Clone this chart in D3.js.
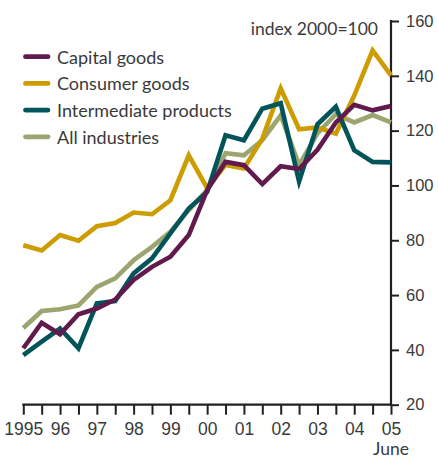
<!DOCTYPE html>
<html>
<head>
<meta charset="utf-8">
<script src="https://cdn.jsdelivr.net/npm/d3@7"></script>
<style>
  body { margin: 0; background: #fff; }
  svg { display: block; font-family: Lato, "Open Sans", sans-serif; }
</style>
</head>
<body>
<svg id="chart" width="438" height="459"></svg>
<script>
/// DATA ///
// half-year steps, 1995 .. June 2005
var periods = d3.range(21);
var yearLabels = ["1995", "96", "97", "98", "99", "00", "01", "02", "03", "04", "05"];
var yTicks = [20, 40, 60, 80, 100, 120, 140, 160];

var capitalGoods = [40.6, 49.9, 45.7, 53, 55.1, 58.4, 65.5, 70.3, 74, 81.9, 98.3,
  108.6, 107.4, 100.5, 107, 106, 113, 123, 129.4, 127.4, 129];
var consumerGoods = [78.2, 76.3, 81.9, 79.8, 85.1, 86.3, 90.1, 89.5, 94.6, 111, 99,
  107.5, 106.2, 117, 135.4, 120.5, 121.2, 118.9, 132.8, 149.3, 140.2];
var intermediateProducts = [38.1, 43, 47.8, 40.6, 57, 57.8, 67.9, 73.4, 82.5, 91.6, 97.6,
  118.3, 116.5, 128, 130, 101.5, 122.3, 128.7, 112.9, 108.6, 108.4];
var allIndustries = [48, 54.2, 54.8, 56.2, 63, 66.1, 72.7, 77.6, 83.1, 91, 98.3,
  111.8, 111, 116.5, 125.6, 107.4, 119, 126, 123, 125.7, 123];

var seriesNames = ["Capital goods", "Consumer goods", "Intermediate products", "All industries"];
var seriesValues = [capitalGoods, consumerGoods, intermediateProducts, allIndustries];

var COLOR = {
  CAPITAL: "#611a4d",
  CONSUMER: "#cc9c00",
  INTERMEDIATE: "#00545a",
  ALL: "#9ca46f",
  AXIS: "#231f20",
  TEXT: "#3a3a3a"
};
var seriesColors = [COLOR.CAPITAL, COLOR.CONSUMER, COLOR.INTERMEDIATE, COLOR.ALL];

/// SETUP ///
var svg = d3.select("#chart");

var x = d3.scaleLinear().domain([0, 20]).range([23.3, 391]);
var y = d3.scaleLinear().domain([20, 160]).range([404.7, 21]);

// x axis: a tick every half year, labels on year starts
var xAxis = d3.axisBottom(x)
  .tickValues(periods)
  .tickSize(10)
  .tickSizeOuter(0)
  .tickFormat(function (d) {
    return d % 2 === 0 ? yearLabels[d / 2] : "";
  });

var xAxisG = svg.append("g")
  .attr("transform", "translate(0," + y(20) + ")")
  .call(xAxis);

xAxisG.select(".domain").remove();
xAxisG.selectAll("line").attr("stroke", COLOR.AXIS).attr("stroke-width", 2);
xAxisG.selectAll("text")
  .attr("fill", COLOR.TEXT)
  .style("font-size", "17.5px")
  .attr("y", 18)
  .attr("dy", "0.71em");

svg.append("line")
  .attr("x1", x(0) - 1)
  .attr("x2", x(20) + 1)
  .attr("y1", y(20))
  .attr("y2", y(20))
  .attr("stroke", COLOR.AXIS)
  .attr("stroke-width", 2.2);

svg.append("text")
  .attr("x", x(20))
  .attr("y", 455)
  .attr("text-anchor", "middle")
  .attr("fill", COLOR.TEXT)
  .style("font-size", "17.5px")
  .text("June");

// y axis on the right
var yAxis = d3.axisRight(y)
  .tickValues(yTicks)
  .tickSize(8)
  .tickSizeOuter(0);

var yAxisG = svg.append("g")
  .attr("transform", "translate(" + x(20) + ",0)")
  .call(yAxis);

yAxisG.select(".domain").remove();
yAxisG.selectAll("line").attr("stroke", COLOR.AXIS).attr("stroke-width", 2);
yAxisG.selectAll("text")
  .attr("fill", COLOR.TEXT)
  .attr("x", 15)
  .style("font-size", "16.5px");

svg.append("line")
  .attr("x1", x(20))
  .attr("x2", x(20))
  .attr("y1", y(160) - 1)
  .attr("y2", y(20) + 1)
  .attr("stroke", COLOR.AXIS)
  .attr("stroke-width", 2.2);

svg.append("text")
  .attr("x", 378)
  .attr("y", 35)
  .attr("text-anchor", "end")
  .attr("fill", COLOR.TEXT)
  .style("font-size", "17.5px")
  .text("index 2000=100");

/// LINES ///
var line = d3.line()
  .x(function (d, i) { return x(i); })
  .y(function (d) { return y(d); });

// draw the aggregate first so the components sit on top
var drawOrder = [3, 1, 2, 0];
svg.append("g")
  .selectAll("path")
  .data(drawOrder)
  .enter()
  .append("path")
  .attr("d", function (k) { return line(seriesValues[k]); })
  .attr("fill", "none")
  .attr("stroke", function (k) { return seriesColors[k]; })
  .attr("stroke-width", 4.6)
  .attr("stroke-linejoin", "miter");

/// LEGEND ///
var legend = svg.append("g")
  .selectAll("g")
  .data(seriesNames)
  .enter()
  .append("g")
  .attr("transform", function (d, i) {
    return "translate(0," + (56.7 + i * 26.7) + ")";
  });

legend.append("line")
  .attr("x1", 25.5)
  .attr("x2", 48)
  .attr("stroke", function (d, i) { return seriesColors[i]; })
  .attr("stroke-width", 4.8)
  .attr("stroke-linecap", "round");

legend.append("text")
  .attr("x", 57)
  .attr("y", 7)
  .attr("fill", COLOR.TEXT)
  .style("font-size", "18px")
  .text(function (d) { return d; });
</script>
</body>
</html>
